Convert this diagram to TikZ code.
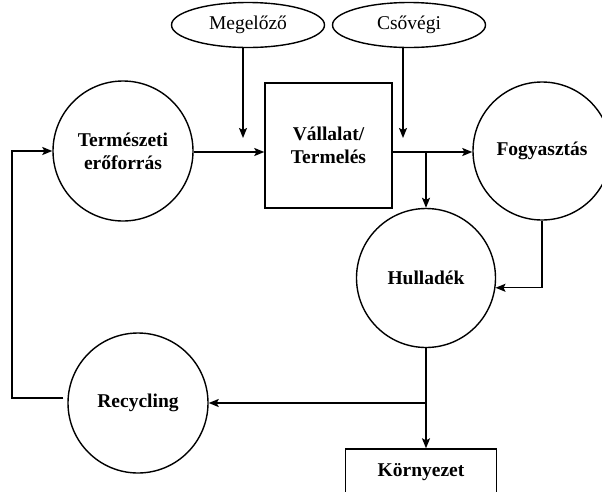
\documentclass[tikz,border=0pt]{standalone}
\usepackage{fontspec}
\setmainfont{Liberation Serif}
\usetikzlibrary{arrows.meta, shapes.geometric, calc}

\begin{document}
\begin{tikzpicture} [x=1pt, y=-1pt, line width=1.4pt,
        kor/.style={draw, circle, minimum size=140pt, inner sep=0pt, align=center,
            font=\fontsize{19.5}{23}\selectfont\bfseries},
        doboz/.style={draw, rectangle, inner sep=0pt, align=center,
            font=\fontsize{19.5}{23}\selectfont\bfseries},
        tojas/.style={draw, ellipse, minimum width=153pt, minimum height=45pt, inner sep=0pt,
            font=\fontsize{19.5}{23}\selectfont},
        nyil/.style={-{Stealth[length=10pt, width=8pt, inset=2pt]}}]
        \useasboundingbox (0,0) rectangle (602,491);

        % ellipszisek felul
        \node[tojas] (meg) at (248,25) {Megelőző};
        \node[tojas] (cso) at (409,25) {Csővégi};

        % fo elemek
        \node[kor] (term) at (123,151) {Természeti\\erőforrás};
        \node[doboz, minimum width=127pt, minimum height=125pt] (vall) at (328.5,145.5) {Vállalat/\\Termelés};
        \node[kor, minimum size=138pt] (fogy) at (542,151) {Fogyasztás};
        \node[kor, minimum size=139pt] (hull) at (426,278) {Hulladék};
        \node[kor] (recy) at (138,403) {Recycling};
        \node[doboz, minimum width=151pt, minimum height=46pt] (korny) at (421,472) {Környezet};

        \coordinate (mtip) at (243,138);
        \coordinate (ctip) at (403,138);
        \coordinate (vki) at (426,152);

        \draw[nyil] (mtip |- meg.south) -- (mtip);
        \draw[nyil] (ctip |- cso.south) -- (ctip);
        \draw[nyil] (term.east |- vki) -- (vall.west |- vki);
        \draw (vall.east |- vki) -- (vki);
        \draw[nyil] (vki) -- (fogy.west |- vki);
        \draw[nyil] (vki) -- (hull.north);
        \draw[nyil] (fogy.south) |- (hull.-8);

        \coordinate (hki) at (hull.south |- recy.east);
        \draw[nyil] (hull.south) -- (hull.south |- korny.north);
        \draw[nyil] (hki) -- (recy.east);
        \draw[nyil] ($(recy.west)+(-4,-5)$) -- (12,398) -- (12,151) -- (term.west);
    \end{tikzpicture}
\end{document}
